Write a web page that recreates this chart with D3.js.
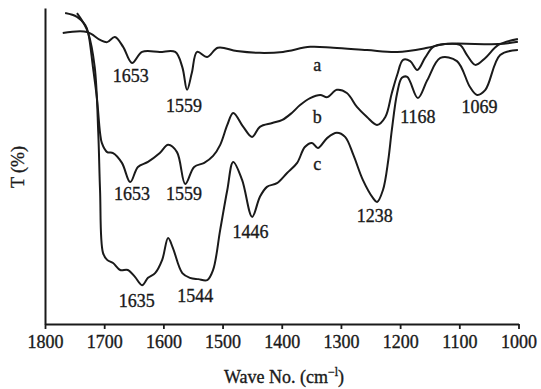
<!DOCTYPE html>
<html><head><meta charset="utf-8">
<script src="https://cdn.jsdelivr.net/npm/d3@7"></script>
<style>
html,body{margin:0;padding:0;background:#fff;}
svg text{font-family:"Liberation Serif","Times New Roman",serif;fill:#1a1a1a;stroke:#1a1a1a;stroke-width:0.35px;}
</style></head>
<body><svg id="c" width="541" height="389"></svg>
<script>
// Wavenumber (cm^-1) and transmittance (arbitrary %)
const seriesA = [[1770,92.1],[1729,92.4],[1707,89.9],[1695,89.2],[1682,90.8],[1668,87.7],[1653,82.6],[1636,86.1],[1606,86.1],[1580,86.1],[1568,81.3],[1560,74.1],[1552,79.4],[1543,86.1],[1526,84.5],[1508,87.4],[1476,86.4],[1437,85.8],[1398,86.1],[1352,87.7],[1313,87.4],[1256,86.7],[1205,86.1],[1154,87.4],[1124,88.6],[1034,88.6],[1001,89.3]];
const seriesB = [[1766,98.4],[1746,97.2],[1732,94.6],[1727,92.1],[1719,81.3],[1712,70.9],[1707,60.5],[1704,57.3],[1695,54.4],[1685,54.1],[1670,51.0],[1656,44.9],[1643,49.7],[1626,51.3],[1606,54.1],[1592,56.7],[1577,54.4],[1563,44.3],[1548,49.7],[1531,51.0],[1516,53.2],[1504,56.7],[1492,63.0],[1482,66.8],[1465,62.4],[1450,59.2],[1437,62.4],[1416,63.6],[1399,64.6],[1383,66.8],[1369,69.3],[1352,71.5],[1335,72.5],[1323,71.8],[1307,74.1],[1290,73.1],[1273,68.7],[1256,65.5],[1239,63.0],[1225,65.5],[1214,73.1],[1205,78.8],[1195,83.6],[1183,83.2],[1171,80.4],[1158,84.2],[1144,87.7],[1124,88.6],[1099,88.3],[1087,85.1],[1073,82.0],[1056,84.2],[1034,88.3],[1001,90.2]];
const seriesC = [[1746,98.4],[1736,95.6],[1727,92.1],[1716,81.3],[1710,60.5],[1707,42.4],[1702,22.5],[1695,20.3],[1685,19.3],[1673,17.1],[1660,17.1],[1648,14.9],[1636,12.3],[1626,14.6],[1614,16.1],[1602,20.3],[1592,27.2],[1584,24.1],[1568,16.1],[1555,14.6],[1541,14.2],[1526,13.9],[1516,17.1],[1504,29.8],[1492,42.4],[1482,51.3],[1467,45.6],[1450,33.9],[1437,40.2],[1425,43.4],[1408,44.6],[1391,47.8],[1374,51.0],[1361,56.0],[1349,57.3],[1339,55.7],[1323,58.9],[1307,60.5],[1293,59.2],[1279,53.5],[1263,45.6],[1246,39.9],[1239,38.6],[1229,42.4],[1220,51.9],[1214,61.4],[1205,73.1],[1197,77.9],[1188,78.2],[1170,71.5],[1154,77.2],[1132,84.2],[1104,83.2],[1082,75.0],[1070,72.5],[1056,74.1],[1031,85.1],[1001,86.7]];
const xTicks = [1800,1700,1600,1500,1400,1300,1200,1100,1000];
// Peak / curve annotations: text, wavenumber, transmittance of label baseline
const labelTexts = ["1653","1559","a","b","c","1168","1069","1653","1559","1446","1238","1635","1544"];
const labelWn    = [1655,1565,1340,1340,1340,1170,1066,1653,1565,1453,1243,1645,1546];
const labelT     = [76.6,67.1,80.1,63.6,48.7,63.6,66.8,39.2,39.2,27.2,32.3,5.4,7.0];

const svg = d3.select("#c");
const x = d3.scaleLinear().domain([1800,1000]).range([45,518.5]);
const y = d3.scaleLinear().domain([0,100]).range([324,8]);

// axes
const xAxis = d3.axisBottom(x).tickValues(xTicks).tickFormat(d3.format("d")).tickSize(5).tickSizeOuter(0).tickPadding(4);
const gx = svg.append("g").attr("transform","translate(0,324)").call(xAxis);
gx.select(".domain").attr("stroke","#1a1a1a").attr("stroke-width",2);
gx.selectAll(".tick line").attr("stroke","#1a1a1a").attr("stroke-width",1.8);
gx.selectAll(".tick text").attr("font-size",18).attr("font-family","Liberation Serif").attr("fill","#1a1a1a").attr("dy","0.85em");

const yAxis = d3.axisLeft(y).tickValues([]).tickSizeOuter(0);
const gy = svg.append("g").attr("transform","translate(45,0)").call(yAxis);
gy.select(".domain").attr("stroke","#1a1a1a").attr("stroke-width",2);

// curves
const line = d3.line().x(d=>x(d[0])).y(d=>y(d[1])).curve(d3.curveCatmullRom.alpha(0.5));
[seriesA,seriesB,seriesC].forEach(s=>{
  svg.append("path").datum(s).attr("d",line).attr("fill","none")
    .attr("stroke","#1a1a1a").attr("stroke-width",2).attr("stroke-linejoin","round");
});

// annotations
labelTexts.forEach((t,i)=>{
  svg.append("text").attr("x",x(labelWn[i])).attr("y",y(labelT[i]))
    .attr("text-anchor","middle").attr("font-size",18).text(t);
});

// axis titles
const xt = svg.append("text").attr("x",284).attr("y",383).attr("text-anchor","middle").attr("font-size",18);
xt.append("tspan").text("Wave No. (cm");
xt.append("tspan").attr("dy",-7).attr("font-size",12).text("\u2212l");
xt.append("tspan").attr("dy",7).text(")");

svg.append("text").attr("transform","translate(24,167) rotate(-90)")
  .attr("text-anchor","middle").attr("font-size",18).text("T (%)");
</script></body></html>
